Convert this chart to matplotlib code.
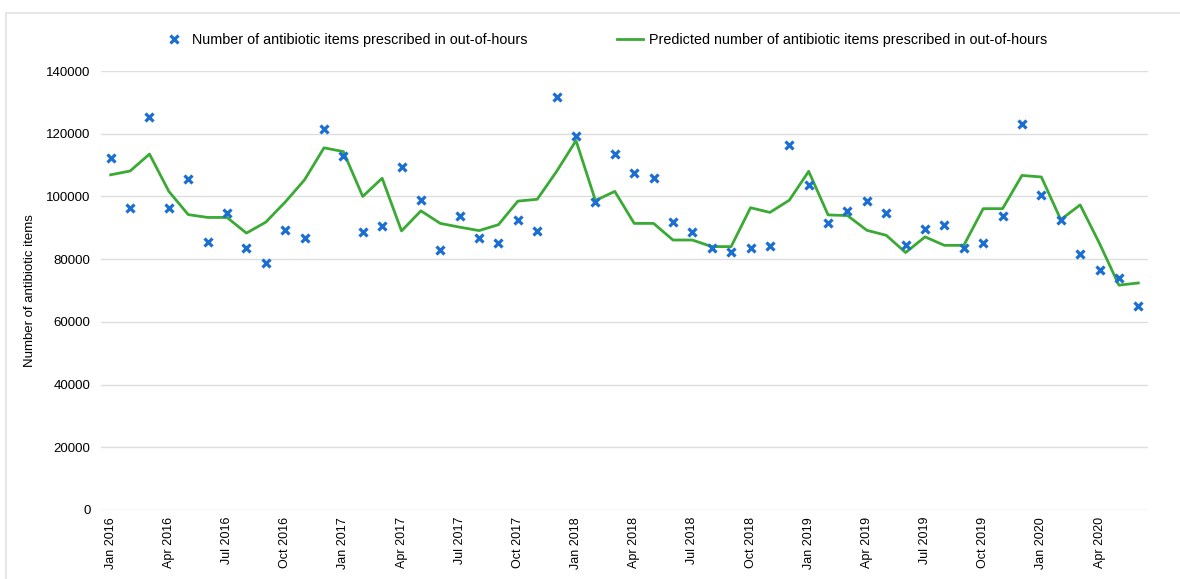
import numpy as np
import matplotlib
matplotlib.use("Agg")
import matplotlib.pyplot as plt
from matplotlib.patches import Rectangle

plt.rcParams['font.family'] = ['Liberation Sans', 'DejaVu Sans']

# meses ene 2016 - jun 2020
meses = ["Jan", "Feb", "Mar", "Apr", "May", "Jun", "Jul", "Aug", "Sep", "Oct", "Nov", "Dec"]
etiquetas = []
for anio in range(2016, 2021):
    for m in meses:
        etiquetas.append(m + " " + str(anio))
etiquetas = etiquetas[:54]

# observados
observado = [112200, 96200, 125400, 96200, 105500, 85400, 94700, 83400, 78700, 89300, 86900, 121500,
             112800, 88500, 90500, 109500, 99000, 82800, 93600, 86600, 85000, 92500, 89000, 131700,
             119200, 98200, 113400, 107500, 106000, 91700, 88600, 83500, 82300, 83500, 84300, 116500,
             103700, 91600, 95200, 98600, 94700, 84600, 89700, 90900, 83500, 85000, 93600, 123000,
             100600, 92400, 81500, 76600, 74100, 65200]

# prediccion
predicho = [106900, 108100, 113500, 101600, 94200, 93300, 93300, 88300, 91800, 98200, 105300, 115500,
            114300, 100000, 105800, 89000, 95400, 91400, 90200, 89100, 91000, 98500, 99100, 108000,
            117800, 98700, 101600, 91400, 91400, 86100, 86100, 84000, 84000, 96400, 94900, 98800,
            108000, 94100, 93900, 89200, 87600, 82100, 87100, 84400, 84400, 96100, 96100, 106700,
            106200, 92600, 97300, 85000, 71700, 72400]

x = np.arange(len(etiquetas))

fig = plt.figure(figsize=(11.8, 5.79), dpi=100)
fig.patches.append(Rectangle((6/1180, -0.1), 1.2, 1.1 - 13/579, transform=fig.transFigure,
                             fill=False, edgecolor="#e2e2e2", linewidth=1.2))
ax = fig.add_axes([101/1180, 69/579, 1047/1180, 439/579])

ax.plot(x, predicho, color="#3aaa35", linewidth=2,
        label="Predicted number of antibiotic items prescribed in out-of-hours", zorder=2)
ax.plot(x, observado, linestyle="none", marker="x", markersize=5.5, markeredgewidth=2.3,
        color="#1b6fd3", label="Number of antibiotic items prescribed in out-of-hours", zorder=3)

ax.set_xlim(-0.5, len(x) - 0.5)
ax.set_ylim(0, 140000)
ax.set_yticks(np.arange(0, 140001, 20000))
ax.set_yticklabels([str(v) for v in range(0, 140001, 20000)], fontsize=9.5)
ax.set_xticks(x[::3])
ax.set_xticklabels(etiquetas[::3], rotation=90, fontsize=9)
ax.tick_params(axis="x", length=0, pad=5)
ax.tick_params(axis="y", length=0, pad=7.5)
ax.grid(axis="y", color="#dedede", linewidth=1)
ax.set_axisbelow(True)
for s in ax.spines.values():
    s.set_visible(False)
ax.set_ylabel("Number of antibiotic items", fontsize=9.5, labelpad=7)

h, l = ax.get_legend_handles_labels()
fig.legend([h[1], h[0]], [l[1], l[0]], loc="center", bbox_to_anchor=(604/1180, 1 - 40/579),
           ncol=2, frameon=False, fontsize=10.4, columnspacing=6.2, handletextpad=0.4,
           handlelength=1.8)

plt.savefig("out.png", dpi=100)
